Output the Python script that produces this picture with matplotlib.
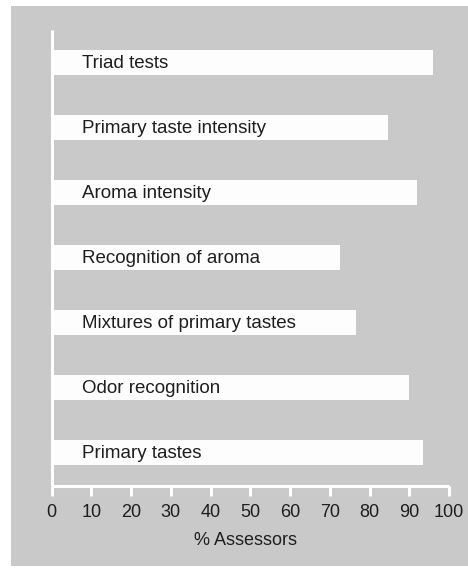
import matplotlib
matplotlib.use('Agg')
import matplotlib.pyplot as plt
from matplotlib.patches import Rectangle

plt.rcParams['font.family'] = ['Liberation Sans', 'DejaVu Sans']

# data, listed top to bottom as in the chart
tests = ['Triad tests', 'Primary taste intensity', 'Aroma intensity',
         'Recognition of aroma', 'Mixtures of primary tastes',
         'Odor recognition', 'Primary tastes']
pct_assessors = [96, 84.6, 92, 72.7, 76.5, 90, 93.5]
x_ticks = [0, 10, 20, 30, 40, 50, 60, 70, 80, 90, 100]

grey = '#c9c9c9'
bar_col = '#fdfdfd'
txt_col = '#1e1e1e'

fig = plt.figure(figsize=(4.68, 5.70), dpi=100)
fig.patch.set_facecolor('white')
# grey panel behind the whole chart
fig.patches.append(Rectangle((11 / 468, 4 / 570), 457 / 468, 560 / 570,
                             transform=fig.transFigure, facecolor=grey,
                             edgecolor='none', zorder=-10))

ax = fig.add_axes([51.5 / 468, 84.5 / 570, 397.5 / 468, 455.5 / 570])
ax.set_facecolor('none')

n = len(tests)
ypos = [n - 1 - i for i in range(n)]
ax.barh(ypos, pct_assessors, height=0.385, color=bar_col, edgecolor='none', zorder=2)
for y, name in zip(ypos, tests):
    ax.text(7.7, y - 0.02, name, ha='left', va='center', fontsize=13.5, color=txt_col, zorder=3)

ax.set_xlim(0, 100)
ax.set_ylim(-0.51, n - 0.5)
ax.set_xticks(x_ticks)
ax.set_xticklabels([str(t) for t in x_ticks])
ax.set_yticks([])

for s in ['top', 'right']:
    ax.spines[s].set_visible(False)
for s in ['left', 'bottom']:
    ax.spines[s].set_color('white')
    ax.spines[s].set_linewidth(2.2)
    ax.spines[s].set_capstyle('butt')

ax.tick_params(axis='x', direction='out', length=7.5, width=2.2, color='white',
               labelsize=13, labelcolor=txt_col, pad=5.5)
ax.set_xlabel('% Assessors', fontsize=13, color=txt_col, labelpad=8)
ax.xaxis.label.set_x(0.487)

fig.savefig('out.png', dpi=100, facecolor=fig.get_facecolor())
